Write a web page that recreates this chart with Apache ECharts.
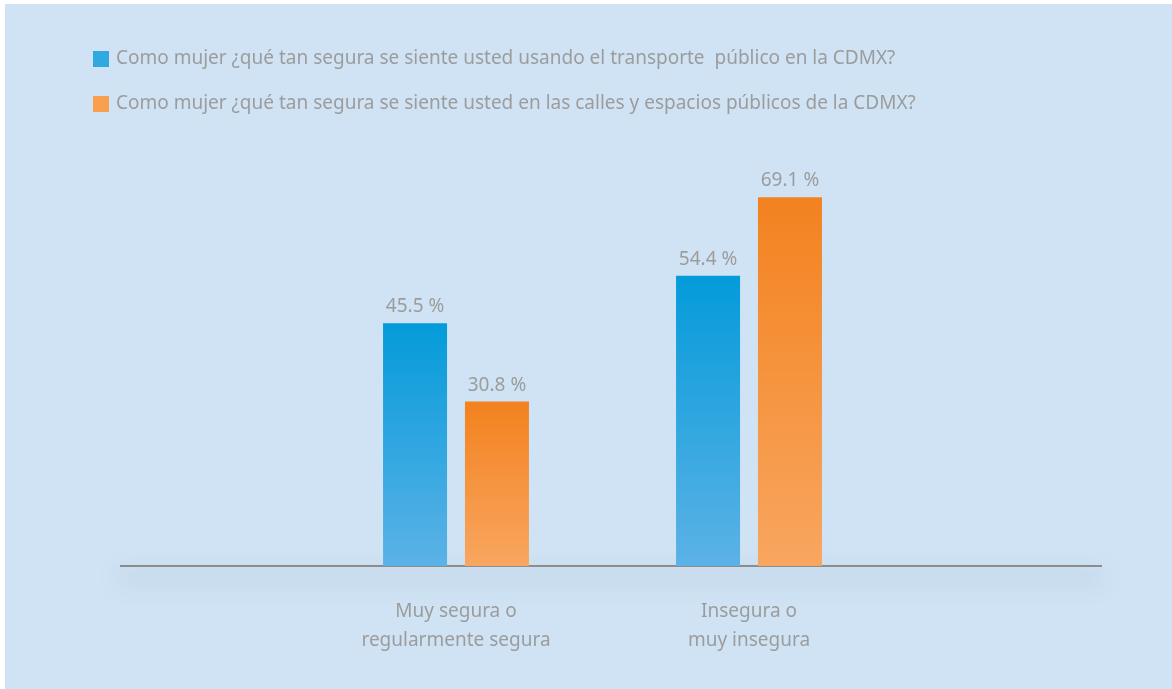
<!DOCTYPE html>
<html lang="es">
  <head>
    <meta charset="UTF-8">
    <title>Seguridad CDMX</title>
    <script src="https://cdn.jsdelivr.net/npm/echarts@6/dist/echarts.min.js"></script>
    <style>
      body { margin: 0; background: #ffffff; }
      #main { position: absolute; left: 5px; top: 4px; width: 1167px; height: 685px; }
    </style>
  </head>
  <body>
    <div id="main"></div>
    <script type="text/javascript">
      // datos
      var categorias = ['Muy segura o\nregularmente segura', 'Insegura o\nmuy insegura'];
      var serieNombres = [
        'Como mujer ¿qué tan segura se siente usted usando el transporte  público en la CDMX?',
        'Como mujer ¿qué tan segura se siente usted en las calles y espacios públicos de la CDMX?'
      ];
      var transporte = [45.5, 54.4];
      var calles = [30.8, 69.1];

      var gris = '#9c9c9c';
      var fuente = '"Noto Sans", sans-serif';

      function grad(top, bottom) {
        return new echarts.graphic.LinearGradient(0, 0, 0, 1, [
          { offset: 0, color: top },
          { offset: 1, color: bottom }
        ]);
      }

      var chart = echarts.init(document.getElementById('main'));
      chart.setOption({
        backgroundColor: '#cfe3f4',
        animation: false,
        legend: {
          orient: 'vertical',
          left: 88,
          top: 43,
          padding: 0,
          itemWidth: 16,
          itemHeight: 16,
          itemGap: 21,
          icon: 'rect',
          textStyle: { color: gris, fontSize: 19, fontFamily: fuente, padding: [0, 0, 0, 2], lineHeight: 24 },
          data: [
            { name: serieNombres[0], itemStyle: { color: '#30a8e0' } },
            { name: serieNombres[1], itemStyle: { color: '#f9a04e' } }
          ]
        },
        grid: { left: 304.5, right: 276.5, top: 135, bottom: 123 },
        xAxis: {
          type: 'category',
          data: categorias,
          axisLine: { show: false },
          axisTick: { show: false },
          axisLabel: { color: gris, fontSize: 19, fontFamily: fuente, lineHeight: 29, margin: 31 }
        },
        yAxis: { type: 'value', min: 0, max: 80, show: false, splitLine: { show: false } },
        graphic: [{
          type: 'line',
          z: 1,
          shape: { x1: 115, y1: 562, x2: 1097, y2: 562 },
          style: {
            stroke: '#8c8c8c',
            lineWidth: 2,
            shadowBlur: 22,
            shadowOffsetY: 12,
            shadowColor: 'rgba(60,80,100,0.5)'
          }
        }],
        series: [
          {
            name: serieNombres[0],
            type: 'bar',
            barWidth: 64,
            barGap: '28%',
            data: transporte,
            itemStyle: { color: grad('#049bda', '#5cb2e6') },
            label: { show: true, position: 'top', distance: 7, color: gris, fontSize: 19, fontFamily: fuente, formatter: '{c} %' }
          },
          {
            name: serieNombres[1],
            type: 'bar',
            barWidth: 64,
            data: calles,
            itemStyle: { color: grad('#f3821f', '#f8a660') },
            label: { show: true, position: 'top', distance: 7, color: gris, fontSize: 19, fontFamily: fuente, formatter: '{c} %' }
          }
        ]
      });
    </script>
  </body>
</html>
